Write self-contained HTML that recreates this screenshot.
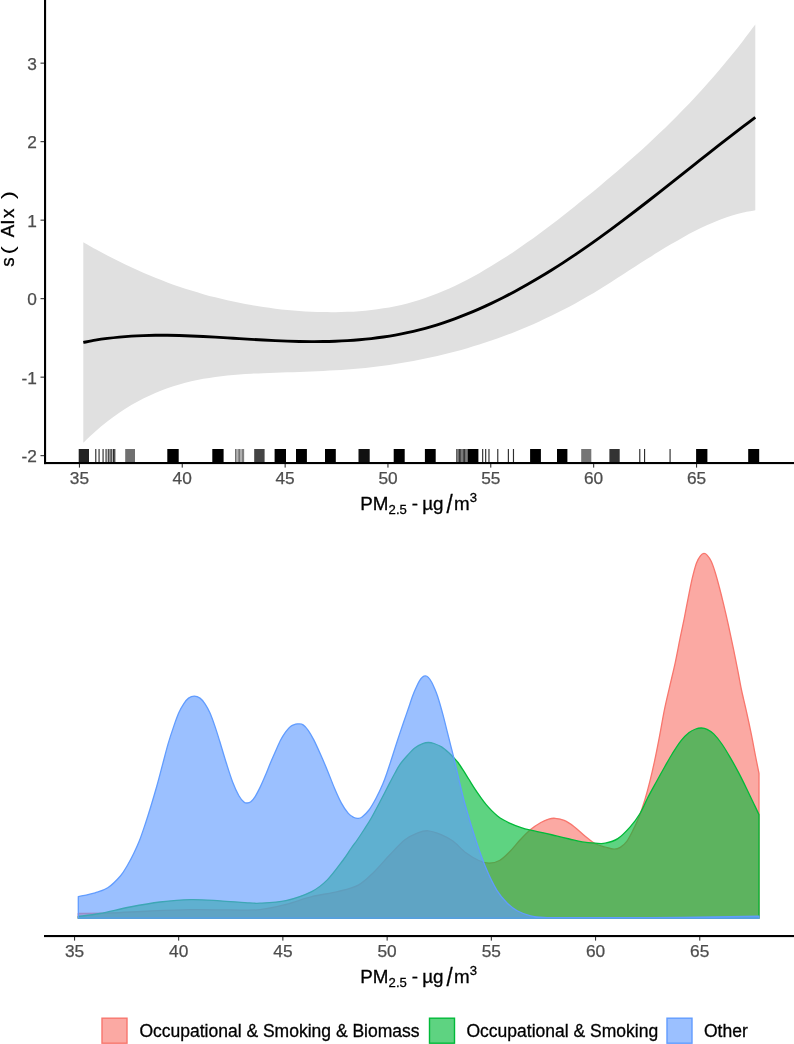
<!DOCTYPE html>
<html lang="en"><head><meta charset="utf-8"><title>Plot</title>
<style>html,body{margin:0;padding:0;background:#fff}svg{display:block}</style></head>
<body>
<svg width="794" height="1044" viewBox="0 0 794 1044" font-family="'Liberation Sans', Arial, sans-serif">
<rect width="794" height="1044" fill="#fff"/>
<path d="M83.30,242.19 C85.30,243.32 91.30,246.77 95.30,248.98 C99.30,251.19 103.30,253.34 107.30,255.43 C111.30,257.52 115.30,259.56 119.30,261.54 C123.30,263.52 127.30,265.43 131.30,267.29 C135.30,269.15 139.30,270.95 143.30,272.69 C147.30,274.43 151.30,276.10 155.30,277.72 C159.30,279.33 163.30,280.89 167.30,282.38 C171.30,283.87 175.30,285.29 179.30,286.66 C183.30,288.02 187.30,289.33 191.30,290.57 C195.30,291.82 199.30,293.00 203.30,294.13 C207.30,295.26 211.30,296.33 215.30,297.34 C219.30,298.36 223.30,299.32 227.30,300.23 C231.30,301.13 235.30,301.99 239.30,302.79 C243.30,303.59 247.30,304.34 251.30,305.04 C255.30,305.74 259.30,306.40 263.30,307.00 C267.30,307.60 271.30,308.15 275.30,308.65 C279.30,309.15 283.30,309.60 287.30,310.00 C291.30,310.39 295.30,310.73 299.30,311.02 C303.30,311.31 307.30,311.55 311.30,311.73 C315.30,311.91 319.30,312.04 323.30,312.11 C327.30,312.18 331.30,312.20 335.30,312.16 C339.30,312.11 343.30,312.02 347.30,311.85 C351.30,311.68 355.30,311.46 359.30,311.15 C363.30,310.85 367.30,310.48 371.30,310.01 C375.30,309.55 379.30,309.01 383.30,308.37 C387.30,307.74 391.30,307.02 395.30,306.19 C399.30,305.36 403.30,304.44 407.30,303.40 C411.30,302.37 415.30,301.23 419.30,299.97 C423.30,298.71 427.30,297.33 431.30,295.85 C435.30,294.36 439.30,292.76 443.30,291.06 C447.30,289.37 451.30,287.56 455.30,285.66 C459.30,283.76 463.30,281.75 467.30,279.67 C471.30,277.58 475.30,275.39 479.30,273.13 C483.30,270.86 487.30,268.51 491.30,266.08 C495.30,263.66 499.30,261.15 503.30,258.57 C507.30,256.00 511.30,253.35 515.30,250.63 C519.30,247.92 523.30,245.14 527.30,242.31 C531.30,239.47 535.30,236.58 539.30,233.63 C543.30,230.69 547.30,227.69 551.30,224.65 C555.30,221.61 559.30,218.52 563.30,215.40 C567.30,212.27 571.30,209.10 575.30,205.91 C579.30,202.72 583.30,199.49 587.30,196.24 C591.30,192.98 595.30,189.71 599.30,186.39 C603.30,183.08 607.30,179.74 611.30,176.36 C615.30,172.97 619.30,169.55 623.30,166.08 C627.30,162.61 631.30,159.09 635.30,155.52 C639.30,151.94 643.30,148.32 647.30,144.63 C651.30,140.94 655.30,137.19 659.30,133.37 C663.30,129.55 667.30,125.66 671.30,121.69 C675.30,117.72 679.30,113.68 683.30,109.55 C687.30,105.42 691.30,101.22 695.30,96.91 C699.30,92.60 703.30,88.21 707.30,83.72 C711.30,79.22 715.30,74.63 719.30,69.93 C723.30,65.22 727.30,60.42 731.30,55.50 C735.30,50.58 739.30,45.55 743.30,40.39 C747.30,35.23 753.30,27.19 755.30,24.55 L755.30,210.21 C753.30,210.58 747.30,211.52 743.30,212.43 C739.30,213.35 735.30,214.47 731.30,215.72 C727.30,216.97 723.30,218.39 719.30,219.94 C715.30,221.49 711.30,223.19 707.30,225.00 C703.30,226.80 699.30,228.75 695.30,230.78 C691.30,232.80 687.30,234.95 683.30,237.16 C679.30,239.37 675.30,241.68 671.30,244.04 C667.30,246.39 663.30,248.83 659.30,251.30 C655.30,253.76 651.30,256.29 647.30,258.83 C643.30,261.37 639.30,263.95 635.30,266.52 C631.30,269.09 627.30,271.69 623.30,274.26 C619.30,276.82 615.30,279.40 611.30,281.92 C607.30,284.45 603.30,286.96 599.30,289.41 C595.30,291.86 591.30,294.27 587.30,296.61 C583.30,298.94 579.30,301.21 575.30,303.42 C571.30,305.62 567.30,307.76 563.30,309.83 C559.30,311.91 555.30,313.91 551.30,315.86 C547.30,317.81 543.30,319.69 539.30,321.52 C535.30,323.34 531.30,325.10 527.30,326.81 C523.30,328.51 519.30,330.16 515.30,331.75 C511.30,333.34 507.30,334.87 503.30,336.34 C499.30,337.82 495.30,339.24 491.30,340.60 C487.30,341.97 483.30,343.28 479.30,344.54 C475.30,345.80 471.30,347.01 467.30,348.17 C463.30,349.33 459.30,350.43 455.30,351.49 C451.30,352.55 447.30,353.56 443.30,354.52 C439.30,355.49 435.30,356.40 431.30,357.27 C427.30,358.14 423.30,358.97 419.30,359.75 C415.30,360.54 411.30,361.27 407.30,361.97 C403.30,362.67 399.30,363.33 395.30,363.94 C391.30,364.56 387.30,365.13 383.30,365.67 C379.30,366.21 375.30,366.70 371.30,367.16 C367.30,367.62 363.30,368.04 359.30,368.43 C355.30,368.81 351.30,369.16 347.30,369.48 C343.30,369.79 339.30,370.07 335.30,370.32 C331.30,370.57 327.30,370.78 323.30,370.97 C319.30,371.16 315.30,371.32 311.30,371.48 C307.30,371.63 303.30,371.76 299.30,371.89 C295.30,372.02 291.30,372.14 287.30,372.27 C283.30,372.40 279.30,372.52 275.30,372.67 C271.30,372.81 267.30,372.96 263.30,373.13 C259.30,373.31 255.30,373.50 251.30,373.73 C247.30,373.96 243.30,374.20 239.30,374.51 C235.30,374.81 231.30,375.15 227.30,375.56 C223.30,375.97 219.30,376.43 215.30,376.98 C211.30,377.53 207.30,378.14 203.30,378.86 C199.30,379.59 195.30,380.38 191.30,381.30 C187.30,382.23 183.30,383.24 179.30,384.39 C175.30,385.55 171.30,386.81 167.30,388.23 C163.30,389.64 159.30,391.19 155.30,392.90 C151.30,394.60 147.30,396.45 143.30,398.48 C139.30,400.50 135.30,402.68 131.30,405.04 C127.30,407.41 123.30,409.94 119.30,412.67 C115.30,415.40 111.30,418.31 107.30,421.43 C103.30,424.55 99.30,427.86 95.30,431.40 C91.30,434.94 85.30,440.78 83.30,442.66 Z" fill="#e0e0e0"/>
<path d="M83.30,342.42 C85.30,342.05 91.30,340.86 95.30,340.19 C99.30,339.53 103.30,338.95 107.30,338.43 C111.30,337.92 115.30,337.48 119.30,337.10 C123.30,336.73 127.30,336.42 131.30,336.17 C135.30,335.91 139.30,335.73 143.30,335.58 C147.30,335.44 151.30,335.35 155.30,335.31 C159.30,335.26 163.30,335.27 167.30,335.30 C171.30,335.34 175.30,335.42 179.30,335.53 C183.30,335.63 187.30,335.78 191.30,335.94 C195.30,336.10 199.30,336.29 203.30,336.50 C207.30,336.70 211.30,336.93 215.30,337.16 C219.30,337.39 223.30,337.64 227.30,337.89 C231.30,338.14 235.30,338.40 239.30,338.65 C243.30,338.90 247.30,339.15 251.30,339.38 C255.30,339.62 259.30,339.85 263.30,340.07 C267.30,340.28 271.30,340.48 275.30,340.66 C279.30,340.84 283.30,341.00 287.30,341.13 C291.30,341.27 295.30,341.38 299.30,341.46 C303.30,341.54 307.30,341.59 311.30,341.60 C315.30,341.62 319.30,341.60 323.30,341.54 C327.30,341.48 331.30,341.38 335.30,341.24 C339.30,341.09 343.30,340.91 347.30,340.66 C351.30,340.42 355.30,340.14 359.30,339.79 C363.30,339.44 367.30,339.05 371.30,338.59 C375.30,338.13 379.30,337.61 383.30,337.02 C387.30,336.43 391.30,335.79 395.30,335.06 C399.30,334.34 403.30,333.56 407.30,332.69 C411.30,331.82 415.30,330.88 419.30,329.86 C423.30,328.84 427.30,327.74 431.30,326.56 C435.30,325.38 439.30,324.12 443.30,322.79 C447.30,321.46 451.30,320.05 455.30,318.57 C459.30,317.09 463.30,315.54 467.30,313.92 C471.30,312.29 475.30,310.60 479.30,308.84 C483.30,307.07 487.30,305.24 491.30,303.34 C495.30,301.45 499.30,299.48 503.30,297.46 C507.30,295.43 511.30,293.34 515.30,291.19 C519.30,289.04 523.30,286.83 527.30,284.56 C531.30,282.29 535.30,279.96 539.30,277.58 C543.30,275.19 547.30,272.75 551.30,270.26 C555.30,267.76 559.30,265.21 563.30,262.61 C567.30,260.01 571.30,257.36 575.30,254.66 C579.30,251.97 583.30,249.21 587.30,246.42 C591.30,243.63 595.30,240.78 599.30,237.90 C603.30,235.02 607.30,232.10 611.30,229.14 C615.30,226.18 619.30,223.19 623.30,220.17 C627.30,217.15 631.30,214.09 635.30,211.02 C639.30,207.95 643.30,204.85 647.30,201.73 C651.30,198.62 655.30,195.48 659.30,192.33 C663.30,189.19 667.30,186.03 671.30,182.87 C675.30,179.70 679.30,176.53 683.30,173.36 C687.30,170.19 691.30,167.01 695.30,163.84 C699.30,160.68 703.30,157.51 707.30,154.36 C711.30,151.21 715.30,148.06 719.30,144.93 C723.30,141.81 727.30,138.70 731.30,135.61 C735.30,132.52 739.30,129.45 743.30,126.41 C747.30,123.37 753.30,118.88 755.30,117.38" fill="none" stroke="#000" stroke-width="2.9" stroke-linejoin="round"/>
<rect x="78.7" y="449" width="10.3" height="13.2" fill="#222"/>
<rect x="125.2" y="449" width="9.8" height="13.2" fill="#707070"/>
<rect x="167.3" y="449" width="11.4" height="13.2" fill="#000"/>
<rect x="212.3" y="449" width="11.3" height="13.2" fill="#000"/>
<rect x="235.10" y="449" width="0.85" height="13.2" fill="#555"/>
<rect x="236.46" y="449" width="0.85" height="13.2" fill="#555"/>
<rect x="237.82" y="449" width="0.85" height="13.2" fill="#555"/>
<rect x="239.18" y="449" width="0.85" height="13.2" fill="#555"/>
<rect x="240.54" y="449" width="0.85" height="13.2" fill="#555"/>
<rect x="241.90" y="449" width="0.85" height="13.2" fill="#555"/>
<rect x="243.26" y="449" width="0.85" height="13.2" fill="#555"/>
<rect x="254.2" y="449" width="10.4" height="13.2" fill="#444"/>
<rect x="274.6" y="449" width="11.4" height="13.2" fill="#000"/>
<rect x="296.0" y="449" width="10.9" height="13.2" fill="#000"/>
<rect x="325.0" y="449" width="10.8" height="13.2" fill="#000"/>
<rect x="358.5" y="449" width="11.2" height="13.2" fill="#111"/>
<rect x="393.7" y="449" width="11.0" height="13.2" fill="#000"/>
<rect x="424.9" y="449" width="10.8" height="13.2" fill="#000"/>
<rect x="456.30" y="449" width="1.00" height="13.2" fill="#222"/>
<rect x="457.60" y="449" width="1.00" height="13.2" fill="#222"/>
<rect x="458.90" y="449" width="1.00" height="13.2" fill="#222"/>
<rect x="460.20" y="449" width="1.00" height="13.2" fill="#222"/>
<rect x="461.50" y="449" width="1.00" height="13.2" fill="#222"/>
<rect x="462.80" y="449" width="1.00" height="13.2" fill="#222"/>
<rect x="464.10" y="449" width="1.00" height="13.2" fill="#222"/>
<rect x="465.40" y="449" width="1.00" height="13.2" fill="#222"/>
<rect x="466.70" y="449" width="1.00" height="13.2" fill="#222"/>
<rect x="468.0" y="449" width="10.4" height="13.2" fill="#000"/>
<rect x="530.1" y="449" width="10.8" height="13.2" fill="#000"/>
<rect x="557.0" y="449" width="10.4" height="13.2" fill="#000"/>
<rect x="581.2" y="449" width="10.1" height="13.2" fill="#757575"/>
<rect x="609.4" y="449" width="10.3" height="13.2" fill="#333"/>
<rect x="696.1" y="449" width="11.3" height="13.2" fill="#000"/>
<rect x="748.2" y="449" width="11.0" height="13.2" fill="#000"/>
<rect x="95.2" y="449" width="1.15" height="13.2" fill="#2e2e2e"/>
<rect x="98.5" y="449" width="1.15" height="13.2" fill="#2e2e2e"/>
<rect x="102.5" y="449" width="1.15" height="13.2" fill="#2e2e2e"/>
<rect x="105.5" y="449" width="1.15" height="13.2" fill="#2e2e2e"/>
<rect x="107.7" y="449" width="1.15" height="13.2" fill="#2e2e2e"/>
<rect x="109.5" y="449" width="1.15" height="13.2" fill="#2e2e2e"/>
<rect x="111.2" y="449" width="1.15" height="13.2" fill="#2e2e2e"/>
<rect x="113.0" y="449" width="1.15" height="13.2" fill="#2e2e2e"/>
<rect x="114.2" y="449" width="1.15" height="13.2" fill="#2e2e2e"/>
<rect x="482.1" y="449" width="1.15" height="13.2" fill="#2e2e2e"/>
<rect x="485.1" y="449" width="1.15" height="13.2" fill="#2e2e2e"/>
<rect x="488.4" y="449" width="1.15" height="13.2" fill="#2e2e2e"/>
<rect x="497.2" y="449" width="1.15" height="13.2" fill="#2e2e2e"/>
<rect x="507.8" y="449" width="1.15" height="13.2" fill="#2e2e2e"/>
<rect x="512.9" y="449" width="1.15" height="13.2" fill="#2e2e2e"/>
<rect x="639.2" y="449" width="1.15" height="13.2" fill="#2e2e2e"/>
<rect x="644.0" y="449" width="1.15" height="13.2" fill="#2e2e2e"/>
<rect x="669.5" y="449" width="1.15" height="13.2" fill="#2e2e2e"/>
<rect x="44" y="0" width="2.1" height="464.1" fill="#000"/>
<rect x="44" y="462" width="750" height="2.1" fill="#000"/>
<rect x="78.9" y="464" width="1.1" height="3.6" fill="#333"/>
<text x="79.4" y="483.8" font-size="17.3" fill="#4d4d4d" stroke="#4d4d4d" stroke-width="0.25" text-anchor="middle">35</text>
<rect x="181.7" y="464" width="1.1" height="3.6" fill="#333"/>
<text x="182.2" y="483.8" font-size="17.3" fill="#4d4d4d" stroke="#4d4d4d" stroke-width="0.25" text-anchor="middle">40</text>
<rect x="284.6" y="464" width="1.1" height="3.6" fill="#333"/>
<text x="285.1" y="483.8" font-size="17.3" fill="#4d4d4d" stroke="#4d4d4d" stroke-width="0.25" text-anchor="middle">45</text>
<rect x="387.4" y="464" width="1.1" height="3.6" fill="#333"/>
<text x="388.0" y="483.8" font-size="17.3" fill="#4d4d4d" stroke="#4d4d4d" stroke-width="0.25" text-anchor="middle">50</text>
<rect x="490.2" y="464" width="1.1" height="3.6" fill="#333"/>
<text x="490.8" y="483.8" font-size="17.3" fill="#4d4d4d" stroke="#4d4d4d" stroke-width="0.25" text-anchor="middle">55</text>
<rect x="593.1" y="464" width="1.1" height="3.6" fill="#333"/>
<text x="593.6" y="483.8" font-size="17.3" fill="#4d4d4d" stroke="#4d4d4d" stroke-width="0.25" text-anchor="middle">60</text>
<rect x="696.0" y="464" width="1.1" height="3.6" fill="#333"/>
<text x="696.5" y="483.8" font-size="17.3" fill="#4d4d4d" stroke="#4d4d4d" stroke-width="0.25" text-anchor="middle">65</text>
<rect x="40.5" y="62.6" width="3.6" height="1.1" fill="#333"/>
<text x="36.8" y="69.8" font-size="17.3" fill="#4d4d4d" stroke="#4d4d4d" stroke-width="0.25" text-anchor="end">3</text>
<rect x="40.5" y="141.1" width="3.6" height="1.1" fill="#333"/>
<text x="36.8" y="148.3" font-size="17.3" fill="#4d4d4d" stroke="#4d4d4d" stroke-width="0.25" text-anchor="end">2</text>
<rect x="40.5" y="219.6" width="3.6" height="1.1" fill="#333"/>
<text x="36.8" y="226.8" font-size="17.3" fill="#4d4d4d" stroke="#4d4d4d" stroke-width="0.25" text-anchor="end">1</text>
<rect x="40.5" y="298.1" width="3.6" height="1.1" fill="#333"/>
<text x="36.8" y="305.3" font-size="17.3" fill="#4d4d4d" stroke="#4d4d4d" stroke-width="0.25" text-anchor="end">0</text>
<rect x="40.5" y="376.6" width="3.6" height="1.1" fill="#333"/>
<text x="36.8" y="383.8" font-size="17.3" fill="#4d4d4d" stroke="#4d4d4d" stroke-width="0.25" text-anchor="end">-1</text>
<rect x="40.5" y="455.1" width="3.6" height="1.1" fill="#333"/>
<text x="36.8" y="462.3" font-size="17.3" fill="#4d4d4d" stroke="#4d4d4d" stroke-width="0.25" text-anchor="end">-2</text>
<g fill="#000" stroke="#000" stroke-width="0.3"><text x="360.3" y="510.3" font-size="18.8">PM</text><text x="388.6" y="514.0" font-size="13.1">2.5</text><text x="411.7" y="510.3" font-size="18.8">-</text><text x="422.3" y="510.3" font-size="18.8">µg</text><text x="446.6" y="513.1" font-size="26" textLength="6.2" lengthAdjust="spacingAndGlyphs">/</text><text x="454.1" y="510.3" font-size="18.8">m</text><text x="469.7" y="502.4" font-size="13.1">3</text></g>
<g transform="translate(14.2,0) rotate(-90)" font-size="18.8" fill="#000"><text x="-266.8" y="0" stroke="#000" stroke-width="0.3">s</text><text x="-254.6" y="0" textLength="8.4" lengthAdjust="spacingAndGlyphs">(</text><text x="-237.3" y="0" stroke="#000" stroke-width="0.3">AI</text><text x="-218.1" y="0" stroke="#000" stroke-width="0.3">x</text><text x="-199.3" y="0" textLength="8.4" lengthAdjust="spacingAndGlyphs">)</text></g>
<path d="M78.30,918.20 L78.30,913.50 C83.58,913.42 98.05,913.42 110.00,913.00 C121.95,912.58 136.67,911.55 150.00,911.00 C163.33,910.45 176.67,909.88 190.00,909.70 C203.33,909.52 218.33,909.90 230.00,909.90 C241.67,909.90 250.68,910.60 260.00,909.70 C269.32,908.80 277.28,906.67 285.90,904.50 C294.52,902.33 303.08,898.85 311.70,896.70 C320.32,894.55 329.83,893.53 337.60,891.60 C345.37,889.67 352.27,888.33 358.30,885.10 C364.33,881.87 368.62,877.17 373.80,872.20 C378.98,867.23 384.22,860.70 389.40,855.30 C394.58,849.90 400.17,843.55 404.90,839.80 C409.63,836.05 413.92,834.30 417.80,832.80 C421.68,831.30 424.32,830.50 428.20,830.80 C432.08,831.10 436.98,832.88 441.10,834.60 C445.22,836.32 448.77,838.07 452.90,841.10 C457.03,844.13 461.58,849.57 465.90,852.80 C470.22,856.03 474.92,858.78 478.80,860.50 C482.68,862.22 485.75,863.10 489.20,863.10 C492.65,863.10 496.05,862.43 499.50,860.50 C502.95,858.57 506.45,854.95 509.90,851.50 C513.35,848.05 516.75,843.47 520.20,839.80 C523.65,836.13 527.15,832.38 530.60,829.50 C534.05,826.62 537.88,824.23 540.90,822.50 C543.92,820.77 546.33,819.80 548.70,819.10 C551.07,818.40 552.52,818.08 555.10,818.30 C557.68,818.52 560.97,818.97 564.20,820.40 C567.43,821.83 571.05,824.32 574.50,826.90 C577.95,829.48 581.45,833.10 584.90,835.90 C588.35,838.70 591.82,841.85 595.20,843.70 C598.58,845.55 602.07,846.08 605.20,847.00 C608.33,847.92 611.48,849.13 614.00,849.20 C616.52,849.27 618.20,848.65 620.30,847.40 C622.40,846.15 624.50,844.53 626.60,841.70 C628.70,838.87 630.80,834.60 632.90,830.40 C635.00,826.20 637.20,821.62 639.20,816.50 C641.20,811.38 643.13,805.50 644.90,799.70 C646.67,793.90 648.17,788.25 649.80,781.70 C651.43,775.15 653.07,768.05 654.70,760.40 C656.33,752.75 657.98,744.23 659.60,735.80 C661.22,727.37 662.75,717.88 664.40,709.80 C666.05,701.72 667.70,695.13 669.50,687.30 C671.30,679.47 673.43,670.98 675.20,662.80 C676.97,654.62 678.60,645.57 680.10,638.20 C681.60,630.83 682.83,625.42 684.20,618.60 C685.57,611.78 686.93,604.12 688.30,597.30 C689.67,590.48 691.03,583.43 692.40,577.70 C693.77,571.97 695.13,566.58 696.50,562.90 C697.87,559.22 699.37,557.18 700.60,555.60 C701.83,554.02 702.82,553.48 703.90,553.40 C704.98,553.32 705.88,553.78 707.10,555.10 C708.32,556.42 709.83,558.37 711.20,561.30 C712.57,564.23 713.93,568.33 715.30,572.70 C716.67,577.07 718.03,582.30 719.40,587.50 C720.77,592.70 722.00,597.63 723.50,603.90 C725.00,610.17 726.77,617.73 728.40,625.10 C730.03,632.47 731.67,640.18 733.30,648.10 C734.93,656.02 736.83,665.62 738.20,672.60 C739.57,679.58 740.15,683.63 741.50,690.00 C742.85,696.37 744.67,703.43 746.30,710.80 C747.93,718.17 749.78,726.75 751.30,734.20 C752.82,741.65 754.12,748.95 755.40,755.50 C756.68,762.05 758.40,770.50 759.00,773.50 L759.00,918.20 Z" fill="#F8766D" fill-opacity="0.63" stroke="#F8766D" stroke-width="1.3" stroke-linejoin="round"/>
<path d="M78.30,918.20 L78.30,916.50 C81.92,916.00 91.38,915.08 100.00,913.50 C108.62,911.92 120.00,908.92 130.00,907.00 C140.00,905.08 149.85,903.23 160.00,902.00 C170.15,900.77 180.90,899.80 190.90,899.60 C200.90,899.40 210.98,900.30 220.00,900.80 C229.02,901.30 238.33,902.20 245.00,902.60 C251.67,903.00 253.18,903.53 260.00,903.20 C266.82,902.87 277.28,902.53 285.90,900.60 C294.52,898.67 304.80,895.05 311.70,891.60 C318.60,888.15 322.12,885.08 327.30,879.90 C332.48,874.72 338.85,865.73 342.80,860.50 C346.75,855.27 348.55,852.00 351.00,848.50 C353.45,845.00 355.37,842.58 357.50,839.50 C359.63,836.42 361.50,833.58 363.80,830.00 C366.10,826.42 368.52,822.87 371.30,818.00 C374.08,813.13 377.38,806.73 380.50,800.80 C383.62,794.87 387.58,787.03 390.00,782.40 C392.42,777.77 393.33,776.02 395.00,773.00 C396.67,769.98 397.90,767.27 400.00,764.30 C402.10,761.33 405.08,757.97 407.60,755.20 C410.12,752.43 412.58,749.62 415.10,747.70 C417.62,745.78 420.50,744.57 422.70,743.70 C424.90,742.83 426.42,742.53 428.30,742.50 C430.18,742.47 431.78,742.77 434.00,743.50 C436.22,744.23 439.08,745.32 441.60,746.90 C444.12,748.48 447.03,751.15 449.10,753.00 C451.17,754.85 452.52,756.42 454.00,758.00 C455.48,759.58 456.50,760.52 458.00,762.50 C459.50,764.48 461.22,767.15 463.00,769.90 C464.78,772.65 466.78,775.93 468.70,779.00 C470.62,782.07 472.58,785.37 474.50,788.30 C476.42,791.23 478.28,793.92 480.20,796.60 C482.12,799.28 484.08,802.07 486.00,804.40 C487.92,806.73 489.78,808.68 491.70,810.60 C493.62,812.52 495.58,814.37 497.50,815.90 C499.42,817.43 501.28,818.65 503.20,819.80 C505.12,820.95 506.12,821.53 509.00,822.80 C511.88,824.07 516.90,826.17 520.50,827.40 C524.10,828.63 526.77,829.30 530.60,830.20 C534.43,831.10 539.20,831.85 543.50,832.80 C547.80,833.75 552.08,834.87 556.40,835.90 C560.72,836.93 565.08,838.00 569.40,839.00 C573.72,840.00 578.00,841.20 582.30,841.90 C586.60,842.60 591.38,842.98 595.20,843.20 C599.02,843.42 601.43,843.97 605.20,843.20 C608.97,842.43 613.60,841.37 617.80,838.60 C622.00,835.83 626.70,830.78 630.40,826.60 C634.10,822.42 637.03,818.47 640.00,813.50 C642.97,808.53 645.47,802.10 648.20,796.80 C650.93,791.50 653.67,786.67 656.40,781.70 C659.13,776.73 661.88,771.78 664.60,767.00 C667.32,762.22 669.98,757.37 672.70,753.00 C675.42,748.63 678.17,744.20 680.90,740.80 C683.63,737.40 686.63,734.57 689.10,732.60 C691.57,730.63 693.65,729.77 695.70,729.00 C697.75,728.23 699.50,727.95 701.40,728.00 C703.30,728.05 705.05,728.32 707.10,729.30 C709.15,730.28 711.23,731.45 713.70,733.90 C716.17,736.35 719.18,740.13 721.90,744.00 C724.62,747.87 727.28,752.45 730.00,757.10 C732.72,761.75 735.47,766.72 738.20,771.90 C740.93,777.08 743.67,782.62 746.40,788.20 C749.13,793.78 752.50,801.00 754.60,805.40 C756.70,809.80 758.27,813.07 759.00,814.60 L759.00,918.20 Z" fill="#00BA38" fill-opacity="0.63" stroke="#00BA38" stroke-width="1.3" stroke-linejoin="round"/>
<path d="M78.30,918.20 L78.30,896.60 C81.12,895.97 90.28,894.27 95.20,892.80 C100.12,891.33 103.60,890.60 107.80,887.80 C112.00,885.00 117.10,879.80 120.40,876.00 C123.70,872.20 125.38,868.75 127.60,865.00 C129.82,861.25 131.72,857.58 133.70,853.50 C135.68,849.42 137.58,845.38 139.50,840.50 C141.42,835.62 143.30,829.92 145.20,824.20 C147.10,818.48 148.98,812.48 150.90,806.20 C152.82,799.92 154.78,793.33 156.70,786.50 C158.62,779.67 160.50,772.30 162.40,765.20 C164.30,758.10 166.18,750.45 168.10,743.90 C170.02,737.35 172.12,731.08 173.90,725.90 C175.68,720.72 177.17,716.48 178.80,712.80 C180.43,709.12 182.07,706.25 183.70,703.80 C185.33,701.35 186.83,699.38 188.60,698.10 C190.37,696.82 192.40,696.10 194.30,696.10 C196.20,696.10 198.22,696.82 200.00,698.10 C201.78,699.38 203.35,701.35 205.00,703.80 C206.65,706.25 208.27,709.12 209.90,712.80 C211.53,716.48 213.17,721.17 214.80,725.90 C216.43,730.63 217.78,735.02 219.70,741.20 C221.62,747.38 224.15,756.22 226.30,763.00 C228.45,769.78 230.50,776.45 232.60,781.90 C234.70,787.35 237.02,792.35 238.90,795.70 C240.78,799.05 242.53,800.78 243.90,802.00 C245.27,803.22 245.93,803.03 247.10,803.00 C248.27,802.97 249.53,802.92 250.90,801.80 C252.27,800.68 253.73,798.78 255.30,796.30 C256.87,793.82 258.63,790.35 260.30,786.90 C261.97,783.45 263.62,779.58 265.30,775.60 C266.98,771.62 268.72,767.00 270.40,763.00 C272.08,759.00 273.72,755.38 275.40,751.60 C277.08,747.82 278.82,743.55 280.50,740.30 C282.18,737.05 283.83,734.42 285.50,732.10 C287.17,729.78 288.82,727.72 290.50,726.40 C292.18,725.08 294.23,724.62 295.60,724.20 C296.97,723.78 297.45,723.78 298.70,723.90 C299.95,724.02 301.52,723.83 303.10,724.90 C304.68,725.97 306.42,727.80 308.20,730.30 C309.98,732.80 311.72,735.82 313.80,739.90 C315.88,743.98 318.40,749.63 320.70,754.80 C323.00,759.97 325.30,765.33 327.60,770.90 C329.90,776.47 332.20,782.83 334.50,788.20 C336.80,793.57 339.10,798.90 341.40,803.10 C343.70,807.30 346.20,811.00 348.30,813.40 C350.40,815.80 352.38,816.68 354.00,817.50 C355.62,818.32 356.65,818.40 358.00,818.30 C359.35,818.20 360.27,818.28 362.10,816.90 C363.93,815.52 366.70,813.07 369.00,810.00 C371.30,806.93 373.60,802.83 375.90,798.50 C378.20,794.17 380.88,788.50 382.80,784.00 C384.72,779.50 385.87,775.92 387.40,771.50 C388.93,767.08 390.28,762.80 392.00,757.50 C393.72,752.20 395.78,745.53 397.70,739.70 C399.62,733.87 401.77,727.57 403.50,722.50 C405.23,717.43 406.58,713.72 408.10,709.30 C409.62,704.88 411.30,699.55 412.60,696.00 C413.90,692.45 414.78,690.48 415.90,688.00 C417.02,685.52 418.18,682.92 419.30,681.10 C420.42,679.28 421.58,677.97 422.60,677.10 C423.62,676.23 424.45,675.85 425.40,675.90 C426.35,675.95 427.25,676.35 428.30,677.40 C429.35,678.45 430.65,680.33 431.70,682.20 C432.75,684.07 433.63,686.30 434.60,688.60 C435.57,690.90 436.55,693.23 437.50,696.00 C438.45,698.77 439.35,701.93 440.30,705.20 C441.25,708.47 442.23,711.95 443.20,715.60 C444.17,719.25 445.13,723.27 446.10,727.10 C447.07,730.93 448.13,735.15 449.00,738.60 C449.87,742.05 450.53,744.73 451.30,747.80 C452.07,750.87 452.15,750.93 453.60,757.00 C455.05,763.07 457.95,775.78 460.00,784.20 C462.05,792.62 463.20,798.02 465.90,807.50 C468.60,816.98 472.75,830.75 476.20,841.10 C479.65,851.45 483.15,861.40 486.60,869.60 C490.05,877.80 493.45,884.70 496.90,890.30 C500.35,895.90 503.85,899.75 507.30,903.20 C510.75,906.65 513.72,908.90 517.60,911.00 C521.48,913.10 526.28,914.75 530.60,915.80 C534.92,916.85 536.93,916.98 543.50,917.30 C550.07,917.62 557.25,917.63 570.00,917.70 C582.75,917.77 601.67,917.77 620.00,917.70 C638.33,917.63 661.67,917.47 680.00,917.30 C698.33,917.13 716.83,916.88 730.00,916.70 C743.17,916.52 754.17,916.28 759.00,916.20 L759.00,918.20 Z" fill="#619CFF" fill-opacity="0.63" stroke="#619CFF" stroke-width="1.3" stroke-linejoin="round"/>
<rect x="44" y="935" width="750" height="2.1" fill="#000"/>
<rect x="74.0" y="937" width="1.1" height="3.6" fill="#333"/>
<text x="74.5" y="956.8" font-size="17.3" fill="#4d4d4d" stroke="#4d4d4d" stroke-width="0.25" text-anchor="middle">35</text>
<rect x="178.1" y="937" width="1.1" height="3.6" fill="#333"/>
<text x="178.7" y="956.8" font-size="17.3" fill="#4d4d4d" stroke="#4d4d4d" stroke-width="0.25" text-anchor="middle">40</text>
<rect x="282.3" y="937" width="1.1" height="3.6" fill="#333"/>
<text x="282.9" y="956.8" font-size="17.3" fill="#4d4d4d" stroke="#4d4d4d" stroke-width="0.25" text-anchor="middle">45</text>
<rect x="386.6" y="937" width="1.1" height="3.6" fill="#333"/>
<text x="387.1" y="956.8" font-size="17.3" fill="#4d4d4d" stroke="#4d4d4d" stroke-width="0.25" text-anchor="middle">50</text>
<rect x="490.8" y="937" width="1.1" height="3.6" fill="#333"/>
<text x="491.3" y="956.8" font-size="17.3" fill="#4d4d4d" stroke="#4d4d4d" stroke-width="0.25" text-anchor="middle">55</text>
<rect x="595.0" y="937" width="1.1" height="3.6" fill="#333"/>
<text x="595.5" y="956.8" font-size="17.3" fill="#4d4d4d" stroke="#4d4d4d" stroke-width="0.25" text-anchor="middle">60</text>
<rect x="699.2" y="937" width="1.1" height="3.6" fill="#333"/>
<text x="699.7" y="956.8" font-size="17.3" fill="#4d4d4d" stroke="#4d4d4d" stroke-width="0.25" text-anchor="middle">65</text>
<g fill="#000" stroke="#000" stroke-width="0.3"><text x="360.3" y="983.3" font-size="18.8">PM</text><text x="388.6" y="987.0" font-size="13.1">2.5</text><text x="411.7" y="983.3" font-size="18.8">-</text><text x="422.3" y="983.3" font-size="18.8">µg</text><text x="446.6" y="986.1" font-size="26" textLength="6.2" lengthAdjust="spacingAndGlyphs">/</text><text x="454.1" y="983.3" font-size="18.8">m</text><text x="469.7" y="975.4" font-size="13.1">3</text></g>
<rect x="102.0" y="1018.2" width="25" height="25" fill="#F8766D" fill-opacity="0.63" stroke="#F8766D" stroke-width="1.4"/>
<text x="139.4" y="1037.3" font-size="17.5" fill="#000" stroke="#000" stroke-width="0.3">Occupational &amp; Smoking &amp; Biomass</text>
<rect x="429.5" y="1018.2" width="25" height="25" fill="#00BA38" fill-opacity="0.63" stroke="#00BA38" stroke-width="1.4"/>
<text x="466.5" y="1037.3" font-size="17.5" fill="#000" stroke="#000" stroke-width="0.3">Occupational &amp; Smoking</text>
<rect x="667.0" y="1018.2" width="25" height="25" fill="#619CFF" fill-opacity="0.63" stroke="#619CFF" stroke-width="1.4"/>
<text x="704" y="1037.3" font-size="17.5" fill="#000" stroke="#000" stroke-width="0.3">Other</text>
</svg>
</body></html>
